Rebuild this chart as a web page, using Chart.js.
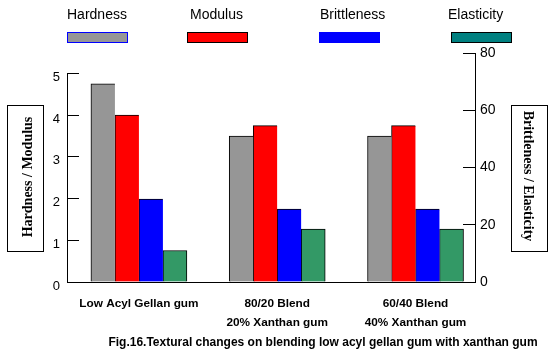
<!DOCTYPE html>
<html><head><meta charset="utf-8">
<script src="https://cdn.jsdelivr.net/npm/chart.js@4"></script>
<style>html,body{margin:0;padding:0;background:#fff}#wrap{width:555px;height:356px}</style>
</head><body><div id="wrap"><canvas id="c" width="555" height="356"></canvas></div>
<script>
// ---- data ----
const categories = [['Low Acyl Gellan gum'], ['80/20 Blend', '20% Xanthan gum'], ['60/40 Blend', '40% Xanthan gum']];
const seriesNames = ['Hardness', 'Modulus', 'Brittleness', 'Elasticity'];
const hardness = [4.75, 3.5, 3.5];      // left axis
const modulus = [4.0, 3.75, 3.75];      // left axis
const brittleness = [29, 25.5, 25.5];   // right axis
const elasticity = [11, 18.5, 18.5];    // right axis
const leftTicks = [0, 1, 2, 3, 4, 5];
const rightTicks = [0, 20, 40, 60, 80];
const leftTitle = 'Hardness / Modulus';
const rightTitle = 'Brittleness / Elasticity';
const caption = 'Fig.16.Textural changes on blending low acyl gellan gum with xanthan gum';

// ---- styles ----
const barColors = ['#969696', '#FF0000', '#0000FF', '#339966'];
const legendFill = ['#969696', '#FF0000', '#0000FF', '#008080'];
const legendStroke = ['#0000FF', '#000000', '#0000FF', '#000000'];
const SANS = '"Liberation Sans", Arial, sans-serif';
const SERIF = '"Liberation Serif", "Times New Roman", serif';

const toPts = arr => arr.map((v, i) => ({x: i, y: v}));
const seriesVals = [hardness, modulus, brittleness, elasticity];
const axisOf = ['y', 'y', 'y1', 'y1'];

const datasets = seriesVals.map((vals, k) => ({
  label: seriesNames[k],
  data: toPts(vals),
  yAxisID: axisOf[k],
  backgroundColor: barColors[k],
  borderColor: '#000',
  borderWidth: {top: 1, left: 1, right: k === 3 ? 1 : 0, bottom: 0},
  borderSkipped: 'start',
  barThickness: 24
}));

const decor = {
  id: 'decor',
  afterDraw(chart) {
    const ctx = chart.ctx;
    const ca = chart.chartArea;
    const ys = chart.scales.y;
    ctx.save();
    // left axis line (from top tick to baseline)
    ctx.strokeStyle = '#000'; ctx.lineWidth = 1;
    ctx.beginPath();
    const lx = Math.round(ca.left) + 0.5;
    ctx.moveTo(lx, ys.getPixelForValue(leftTicks[leftTicks.length - 1]));
    ctx.lineTo(lx, ca.bottom);
    ctx.stroke();

    // legend: text above a colour bar
    const textX = [67, 190, 320, 448];
    const rectX = [67, 187, 319, 451];
    ctx.font = '14px ' + SANS;
    ctx.textAlign = 'left'; ctx.textBaseline = 'middle';
    seriesNames.forEach((n, i) => {
      ctx.fillStyle = '#000';
      ctx.fillText(n, textX[i], 15);
      ctx.fillStyle = legendFill[i];
      ctx.fillRect(rectX[i], 32, 61, 10);
      ctx.strokeStyle = legendStroke[i];
      ctx.strokeRect(rectX[i] + 0.5, 32.5, 60, 10);
    });

    // boxed axis titles
    ctx.strokeStyle = '#000';
    ctx.strokeRect(7.5, 105.5, 36, 146);
    ctx.strokeRect(511.5, 105.5, 36, 146);
    ctx.font = 'bold 14px ' + SERIF;
    ctx.fillStyle = '#000';
    ctx.textAlign = 'center'; ctx.textBaseline = 'middle';
    ctx.save(); ctx.translate(28.5, 177); ctx.rotate(-Math.PI / 2); ctx.fillText(leftTitle, 0, 0); ctx.restore();
    ctx.save(); ctx.translate(527.5, 176); ctx.rotate(Math.PI / 2); ctx.fillText(rightTitle, 0, 0); ctx.restore();

    // caption
    ctx.font = 'bold 12px ' + SANS;
    ctx.textAlign = 'center';
    ctx.fillText(caption, 323, 343);
    ctx.restore();
  }
};

new Chart(document.getElementById('c'), {
  type: 'bar',
  data: {datasets},
  options: {
    responsive: false,
    animation: false,
    devicePixelRatio: 1,
    layout: {padding: {left: 0, right: 0, top: 53, bottom: 0}},
    plugins: {legend: {display: false}, tooltip: {enabled: false}, title: {display: false}},
    scales: {
      x: {
        type: 'linear',
        offset: false,
        min: -0.52, max: 2.43,
        afterBuildTicks: s => { s.ticks = categories.map((c, i) => ({value: i})); },
        afterFit: s => { s.height = 74; },
        grid: {display: true, offset: false, drawOnChartArea: false, drawTicks: false},
        border: {display: true, color: '#000', width: 1},
        ticks: {
          autoSkip: false, maxRotation: 0, minRotation: 0, padding: 12,
          color: '#000',
          font: {family: SANS, size: 11.8, weight: 'bold', lineHeight: '19px'},
          callback: v => categories[v] !== undefined ? categories[v] : ''
        }
      },
      y: {
        position: 'left',
        min: 0, max: 5.49,
        afterBuildTicks: s => { s.ticks = leftTicks.map(v => ({value: v})); },
        afterFit: s => { s.width = 67; },
        grid: {display: true, drawOnChartArea: false, drawTicks: true, tickLength: -12, color: '#000', lineWidth: 1},
        border: {display: false},
        ticks: {padding: 19, labelOffset: 4, color: '#000', font: {family: SANS, size: 13}}
      },
      y1: {
        position: 'right',
        min: 0, max: 80,
        afterBuildTicks: s => { s.ticks = rightTicks.map(v => ({value: v})); },
        afterFit: s => { s.width = 80; },
        grid: {display: true, drawOnChartArea: false, drawTicks: true, tickLength: -12, color: '#000', lineWidth: 1},
        border: {display: true, color: '#000', width: 1},
        ticks: {padding: 17, labelOffset: 0, color: '#000', font: {family: SANS, size: 14}}
      }
    }
  },
  plugins: [decor]
});
</script>
</body></html>
